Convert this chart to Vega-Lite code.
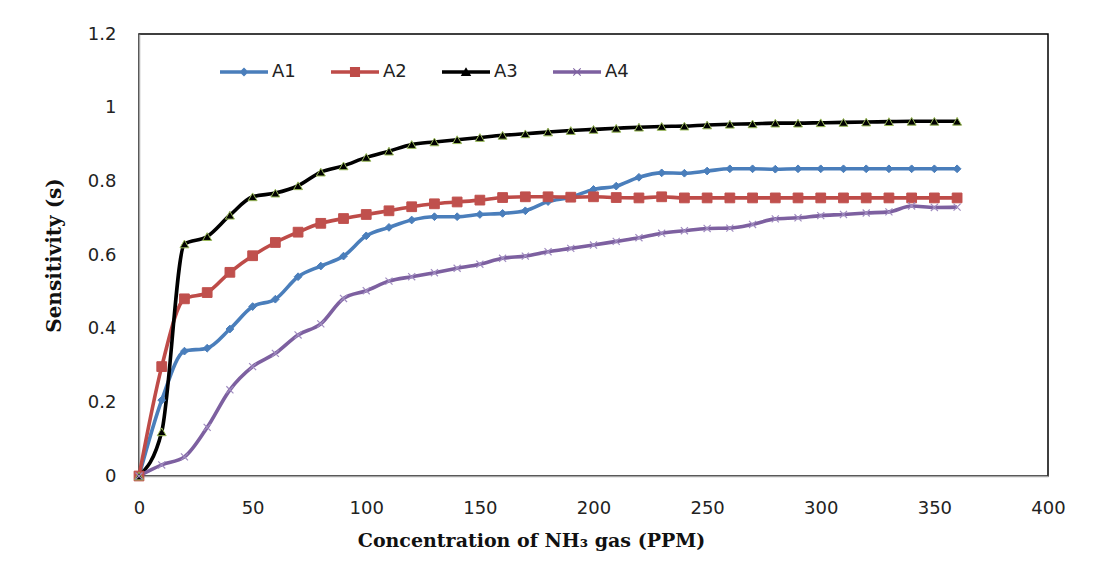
{
  "$schema": "https://vega.github.io/schema/vega-lite/v6.json",
  "autosize": {"type": "none"},
  "width": 909,
  "height": 442,
  "padding": {"left": 139, "top": 34, "right": 59, "bottom": 97},
  "background": "white",
  "config": {"view": {"stroke": "#000", "strokeWidth": 1.5}},
  "data": {"values": [
    {"c":0,"series":"A1","s":0},{"c":10,"series":"A1","s":0.206},{"c":20,"series":"A1","s":0.339},{"c":30,"series":"A1","s":0.347},{"c":40,"series":"A1","s":0.399},{"c":50,"series":"A1","s":0.46},{"c":60,"series":"A1","s":0.48},{"c":70,"series":"A1","s":0.541},{"c":80,"series":"A1","s":0.57},{"c":90,"series":"A1","s":0.597},{"c":100,"series":"A1","s":0.652},{"c":110,"series":"A1","s":0.675},{"c":120,"series":"A1","s":0.695},{"c":130,"series":"A1","s":0.704},{"c":140,"series":"A1","s":0.704},{"c":150,"series":"A1","s":0.71},{"c":160,"series":"A1","s":0.713},{"c":170,"series":"A1","s":0.72},{"c":180,"series":"A1","s":0.745},{"c":190,"series":"A1","s":0.757},{"c":200,"series":"A1","s":0.778},{"c":210,"series":"A1","s":0.787},{"c":220,"series":"A1","s":0.811},{"c":230,"series":"A1","s":0.823},{"c":240,"series":"A1","s":0.822},{"c":250,"series":"A1","s":0.828},{"c":260,"series":"A1","s":0.834},{"c":270,"series":"A1","s":0.834},{"c":280,"series":"A1","s":0.833},{"c":290,"series":"A1","s":0.834},{"c":300,"series":"A1","s":0.834},{"c":310,"series":"A1","s":0.834},{"c":320,"series":"A1","s":0.834},{"c":330,"series":"A1","s":0.834},{"c":340,"series":"A1","s":0.834},{"c":350,"series":"A1","s":0.834},{"c":360,"series":"A1","s":0.834},
    {"c":0,"series":"A2","s":0},{"c":10,"series":"A2","s":0.297},{"c":20,"series":"A2","s":0.481},{"c":30,"series":"A2","s":0.498},{"c":40,"series":"A2","s":0.553},{"c":50,"series":"A2","s":0.598},{"c":60,"series":"A2","s":0.634},{"c":70,"series":"A2","s":0.662},{"c":80,"series":"A2","s":0.686},{"c":90,"series":"A2","s":0.699},{"c":100,"series":"A2","s":0.71},{"c":110,"series":"A2","s":0.72},{"c":120,"series":"A2","s":0.731},{"c":130,"series":"A2","s":0.739},{"c":140,"series":"A2","s":0.744},{"c":150,"series":"A2","s":0.749},{"c":160,"series":"A2","s":0.756},{"c":170,"series":"A2","s":0.758},{"c":180,"series":"A2","s":0.758},{"c":190,"series":"A2","s":0.757},{"c":200,"series":"A2","s":0.758},{"c":210,"series":"A2","s":0.756},{"c":220,"series":"A2","s":0.755},{"c":230,"series":"A2","s":0.758},{"c":240,"series":"A2","s":0.755},{"c":250,"series":"A2","s":0.755},{"c":260,"series":"A2","s":0.755},{"c":270,"series":"A2","s":0.755},{"c":280,"series":"A2","s":0.755},{"c":290,"series":"A2","s":0.755},{"c":300,"series":"A2","s":0.755},{"c":310,"series":"A2","s":0.755},{"c":320,"series":"A2","s":0.755},{"c":330,"series":"A2","s":0.755},{"c":340,"series":"A2","s":0.755},{"c":350,"series":"A2","s":0.755},{"c":360,"series":"A2","s":0.755},
    {"c":0,"series":"A3","s":0},{"c":10,"series":"A3","s":0.12},{"c":20,"series":"A3","s":0.63},{"c":30,"series":"A3","s":0.65},{"c":40,"series":"A3","s":0.708},{"c":50,"series":"A3","s":0.758},{"c":60,"series":"A3","s":0.768},{"c":70,"series":"A3","s":0.788},{"c":80,"series":"A3","s":0.825},{"c":90,"series":"A3","s":0.842},{"c":100,"series":"A3","s":0.865},{"c":110,"series":"A3","s":0.882},{"c":120,"series":"A3","s":0.9},{"c":130,"series":"A3","s":0.907},{"c":140,"series":"A3","s":0.913},{"c":150,"series":"A3","s":0.919},{"c":160,"series":"A3","s":0.925},{"c":170,"series":"A3","s":0.929},{"c":180,"series":"A3","s":0.934},{"c":190,"series":"A3","s":0.938},{"c":200,"series":"A3","s":0.941},{"c":210,"series":"A3","s":0.944},{"c":220,"series":"A3","s":0.947},{"c":230,"series":"A3","s":0.949},{"c":240,"series":"A3","s":0.95},{"c":250,"series":"A3","s":0.953},{"c":260,"series":"A3","s":0.955},{"c":270,"series":"A3","s":0.956},{"c":280,"series":"A3","s":0.958},{"c":290,"series":"A3","s":0.958},{"c":300,"series":"A3","s":0.959},{"c":310,"series":"A3","s":0.96},{"c":320,"series":"A3","s":0.961},{"c":330,"series":"A3","s":0.962},{"c":340,"series":"A3","s":0.963},{"c":350,"series":"A3","s":0.963},{"c":360,"series":"A3","s":0.963},
    {"c":0,"series":"A4","s":0},{"c":10,"series":"A4","s":0.03},{"c":20,"series":"A4","s":0.052},{"c":30,"series":"A4","s":0.132},{"c":40,"series":"A4","s":0.234},{"c":50,"series":"A4","s":0.297},{"c":60,"series":"A4","s":0.333},{"c":70,"series":"A4","s":0.383},{"c":80,"series":"A4","s":0.413},{"c":90,"series":"A4","s":0.482},{"c":100,"series":"A4","s":0.503},{"c":110,"series":"A4","s":0.529},{"c":120,"series":"A4","s":0.541},{"c":130,"series":"A4","s":0.552},{"c":140,"series":"A4","s":0.564},{"c":150,"series":"A4","s":0.575},{"c":160,"series":"A4","s":0.591},{"c":170,"series":"A4","s":0.597},{"c":180,"series":"A4","s":0.609},{"c":190,"series":"A4","s":0.618},{"c":200,"series":"A4","s":0.627},{"c":210,"series":"A4","s":0.637},{"c":220,"series":"A4","s":0.647},{"c":230,"series":"A4","s":0.659},{"c":240,"series":"A4","s":0.666},{"c":250,"series":"A4","s":0.672},{"c":260,"series":"A4","s":0.673},{"c":270,"series":"A4","s":0.683},{"c":280,"series":"A4","s":0.698},{"c":290,"series":"A4","s":0.701},{"c":300,"series":"A4","s":0.707},{"c":310,"series":"A4","s":0.71},{"c":320,"series":"A4","s":0.714},{"c":330,"series":"A4","s":0.717},{"c":340,"series":"A4","s":0.733},{"c":350,"series":"A4","s":0.729},{"c":360,"series":"A4","s":0.73}
  ]},
  "encoding": {
    "x": {"field": "c", "type": "quantitative",
      "scale": {"domain": [0, 400], "nice": false},
      "axis": {"values": [0,50,100,150,200,250,300,350,400], "format": "d", "grid": false, "ticks": false, "tickSize": 0, "labelFlush": false,
        "domainColor": "#a6a6a6", "domainWidth": 1.5,
        "labelFont": "DejaVu Sans", "labelFontSize": 18, "labelColor": "#222", "labelPadding": 23,
        "title": "Concentration of NH₃ gas (PPM)", "titleFont": "DejaVu Serif", "titleFontSize": 19, "titleFontWeight": "bold", "titleColor": "#111",
        "titleX": 392, "titleY": 64, "titleAlign": "center", "titleBaseline": "middle", "titleAnchor": null}},
    "y": {"field": "s", "type": "quantitative",
      "scale": {"domain": [0, 1.2], "nice": false},
      "axis": {"values": [0,0.2,0.4,0.6,0.8,1,1.2], "format": "~g", "grid": false, "ticks": false, "tickSize": 0, "labelFlush": false,
        "domainColor": "#a6a6a6", "domainWidth": 1.5,
        "labelFont": "DejaVu Sans", "labelFontSize": 18, "labelColor": "#222", "labelPadding": 23,
        "title": "Sensitivity (s)", "titleFont": "DejaVu Serif", "titleFontSize": 20, "titleFontWeight": "bold", "titleColor": "#111",
        "titleX": -85, "titleY": 221, "titleAngle": -90, "titleAlign": "center", "titleBaseline": "middle", "titleAnchor": null}}
  },
  "layer": [
    {
      "mark": {"type": "line", "interpolate": "monotone", "strokeWidth": 3.6},
      "encoding": {
        "color": {"field": "series", "type": "nominal",
          "scale": {"domain": ["A1","A2","A3","A4"], "range": ["#4A7EBB","#BE4B48","#000000","#7D60A0"]},
          "legend": {"orient": "none", "legendX": 81, "legendY": 14, "direction": "horizontal", "columns": 4,
            "columnPadding": 35, "padding": 0, "offset": 0, "title": null,
            "symbolSize": 2304, "symbolStrokeWidth": 0,
            "labelFont": "DejaVu Sans", "labelFontSize": 18, "labelColor": "#222", "labelOffset": 4,
            "encode": {"symbols": {"update": {
              "shape": {"signal": "datum.value === 'A1' ? 'M-1,-0.07H1V0.07H-1Z M0,-0.19L0.19,0L0,0.19L-0.19,0Z' : datum.value === 'A2' ? 'M-1,-0.07H1V0.07H-1Z M-0.21,-0.21H0.21V0.21H-0.21Z' : datum.value === 'A3' ? 'M-1,-0.07H1V0.07H-1Z M0,-0.2L0.22,0.17H-0.22Z' : 'M-1,-0.07H1V0.07H-1Z M-0.17,-0.14L-0.14,-0.17L0.17,0.14L0.14,0.17Z M-0.17,0.14L0.14,-0.17L0.17,-0.14L-0.14,0.17Z'"},
              "fill": {"scale": "color", "field": "value"},
              "strokeWidth": {"value": 0},
              "opacity": {"value": 1}
            }}}}
        }
      }
    },
    {
      "transform": [{"filter": "datum.series === 'A1'"}],
      "mark": {"type": "point", "shape": "diamond", "filled": true, "size": 60, "fill": "#4A7EBB", "stroke": "#4A7EBB", "strokeWidth": 1, "opacity": 1}
    },
    {
      "transform": [{"filter": "datum.series === 'A2'"}],
      "mark": {"type": "point", "shape": "square", "filled": true, "size": 95, "fill": "#C0504D", "stroke": "#C0504D", "strokeWidth": 1, "opacity": 1}
    },
    {
      "transform": [{"filter": "datum.series === 'A3'"}],
      "mark": {"type": "point", "shape": "triangle-up", "filled": true, "size": 80, "fill": "#000000", "stroke": "#9BBB59", "strokeWidth": 1, "opacity": 1}
    },
    {
      "transform": [{"filter": "datum.series === 'A4'"}],
      "mark": {"type": "point", "shape": "M-1,-1L1,1M-1,1L1,-1", "filled": false, "size": 50, "stroke": "#A08CC0", "strokeWidth": 1.2, "opacity": 1}
    }
  ]
}
